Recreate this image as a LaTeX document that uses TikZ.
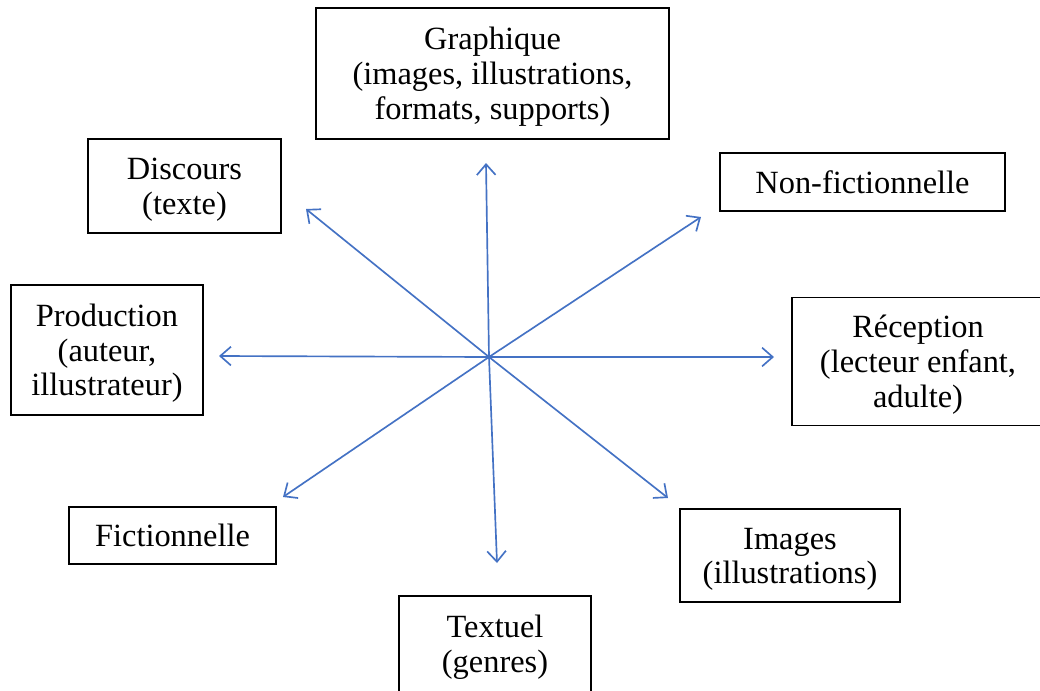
\documentclass[tikz,border=0pt]{standalone}
\usepackage{fontspec}
\setmainfont{Liberation Serif}
\usetikzlibrary{arrows.meta}
\definecolor{arrowblue}{HTML}{4472C4}
\begin{document}
\begin{tikzpicture}[x=0.75pt,y=-0.75pt,
  box/.style={draw=black,line width=1.4pt,align=center,inner sep=0pt,
    text depth=1.5pt,font=\fontsize{24.3pt}{26pt}\selectfont},
  one/.style={text height=18pt},
  two/.style={text height=44pt},
  three/.style={text height=70pt},
  arr/.style={draw=arrowblue,line width=1.25pt,-{Straight Barb[length=8pt,width=14pt,line width=1.25pt]}}]
\useasboundingbox (0,0) rectangle (1040,690);
\node[box,three,minimum width=264.75pt,minimum height=98.25pt] (graph) at (492.5,73.5) {Graphique\\(images, illustrations,\\formats, supports)};
\node[box,two,minimum width=144.75pt,minimum height=70.5pt] (disc) at (184.5,186) {Discours\\(texte)};
\node[box,one,minimum width=213.75pt,minimum height=43.5pt] (nonfic) at (862.5,182) {Non-fictionnelle};
\node[box,three,minimum width=144pt,minimum height=97.5pt] (prod) at (107,350) {Production\\(auteur,\\illustrateur)};
\node[box,three,minimum width=189pt,minimum height=96pt] (recep) at (918,361.5) {Réception\\(lecteur enfant,\\adulte)};
\node[box,one,minimum width=155.25pt,minimum height=42.75pt] (fic) at (172.5,535.5) {Fictionnelle};
\node[box,two,minimum width=165pt,minimum height=69.75pt] (img) at (790,555.5) {Images\\(illustrations)};
\node[box,two,minimum width=144pt,minimum height=72pt] (text) at (495,644) {Textuel\\(genres)};
\coordinate (c) at (489,357);
\coordinate (eU) at (486,163);
\coordinate (eD) at (497,563);
\coordinate (eL) at (219,356);
\coordinate (eR) at (774,357);
\coordinate (eUL) at (306,209);
\coordinate (eUR) at (701,217);
\coordinate (eDL) at (283,497);
\coordinate (eDR) at (668,498);
\foreach \e in {eU,eD,eL,eR,eUL,eUR,eDL,eDR} \draw[arr] (c) -- (\e);
\end{tikzpicture}
\end{document}
